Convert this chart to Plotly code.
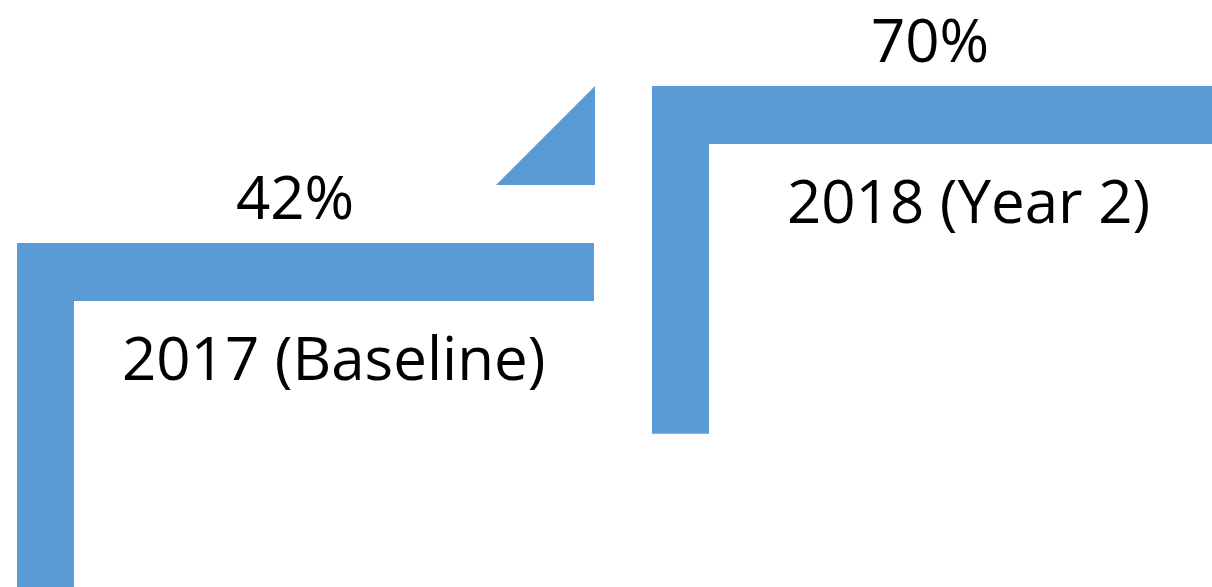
import plotly.graph_objects as go

# Values shown on each step
categories = ["2017 (Baseline)", "2018 (Year 2)"]
values = [42, 70]
value_labels = ["42%", "70%"]

BLUE = "#5B9BD5"
W, H = 1212, 587

# y axis in percent units; x axis in pixel-like units across the canvas
Y_RANGE = [-19.35, 85.34]
X_RANGE = [0, W]
px_per_unit = H / (Y_RANGE[1] - Y_RANGE[0])

bar_t = 58 / px_per_unit       # thickness of the horizontal tread
leg_w = 57                     # width of the vertical riser
leg_len = 62                   # riser length in percent units
step_left = [17, 652]
step_right = [594, 1260]

fig = go.Figure()

for i, v in enumerate(values):
    x0, x1 = step_left[i], step_right[i]
    xs = [x0, x0, x1, x1, x0 + leg_w, x0 + leg_w, x0]
    ys = [v - leg_len, v, v, v - bar_t, v - bar_t, v - leg_len, v - leg_len]
    fig.add_trace(go.Scatter(
        x=xs, y=ys, mode="lines", fill="toself",
        fillcolor=BLUE, line=dict(color=BLUE, width=0),
        hoverinfo="skip", showlegend=False,
    ))
    fig.add_annotation(
        x=x0 + 278, y=v + 8.3, text=value_labels[i],
        showarrow=False, xanchor="center", yanchor="middle",
        font=dict(family="Open Sans", size=60, color="black"),
    )
    fig.add_annotation(
        x=x0 + 316, y=v - 20.3, text=categories[i],
        showarrow=False, xanchor="center", yanchor="middle",
        font=dict(family="Open Sans", size=60, color="black"),
    )

# Connecting triangle between the two treads
tri_right = step_right[0] + 1
tri_bottom = values[0] + bar_t
tri_top = values[1]
tri_w = (tri_top - tri_bottom) * px_per_unit
fig.add_trace(go.Scatter(
    x=[tri_right - tri_w, tri_right, tri_right, tri_right - tri_w],
    y=[tri_bottom, tri_bottom, tri_top, tri_bottom],
    mode="lines", fill="toself", fillcolor=BLUE,
    line=dict(color=BLUE, width=0), hoverinfo="skip", showlegend=False,
))

fig.update_layout(
    width=W, height=H,
    margin=dict(l=0, r=0, t=0, b=0),
    paper_bgcolor="white", plot_bgcolor="white",
    xaxis=dict(range=X_RANGE, visible=False, fixedrange=True),
    yaxis=dict(range=Y_RANGE, visible=False, fixedrange=True),
)

fig.write_html("out.html", config={"displayModeBar": False})
